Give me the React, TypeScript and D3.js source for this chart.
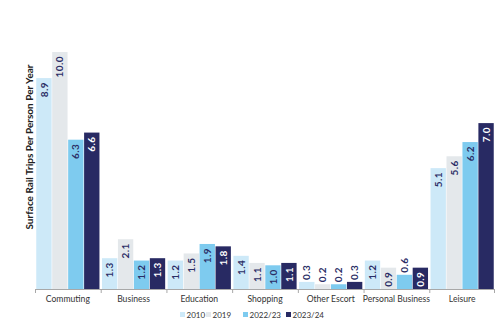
import React from "react";
import * as d3 from "d3";

const categories = ["Commuting", "Business", "Education", "Shopping", "Other Escort", "Personal Business", "Leisure"];
const seriesNames = ["2010", "2019", "2022/23", "2023/24"];
const values2010 = [8.9, 1.3, 1.2, 1.4, 0.3, 1.2, 5.1];
const values2019 = [10.0, 2.1, 1.5, 1.1, 0.2, 0.9, 5.6];
const values2022 = [6.3, 1.2, 1.9, 1.0, 0.2, 0.6, 6.2];
const values2023 = [6.6, 1.3, 1.8, 1.1, 0.3, 0.9, 7.0];
const seriesValues = [values2010, values2019, values2022, values2023];
const colors = ["#cde9f8", "#e4e8eb", "#7ecbef", "#282a63"];
const yLabel = "Surface Rail Trips Per Person Per Year";

const W = 500;
const H = 326;
const left = 35;
const right = 495;
const base = 289;
const FONT = "Lato, 'Open Sans', sans-serif";

export default function App() {
  const x0 = d3.scaleBand<string>().domain(categories).range([left, right]).paddingInner(0).paddingOuter(0);
  const x1 = d3.scaleBand<string>().domain(seriesNames).range([0, x0.bandwidth()]).paddingInner(0).paddingOuter(0.06);
  const y = d3.scaleLinear().domain([0, 10]).range([base, 52]);

  const legendX = [180, 206, 243, 286];

  return (
    <svg width={W} height={H} style={{ position: "absolute", left: 0, top: 0, background: "#fff" }} fontFamily={FONT}>
      {categories.map((c, ci) => (
        <g key={c}>
          {seriesNames.map((s, si) => {
            const v = seriesValues[si][ci];
            const bx = (x0(c) as number) + (x1(s) as number);
            const bw = x1.bandwidth();
            const top = y(v);
            const h = base - top;
            const label = v.toFixed(1);
            const inside = h >= 19;
            const cx = bx + bw / 2;
            const fill = inside ? (si === 3 ? "#ffffff" : "#2b2e66") : "#2b2e66";
            return (
              <g key={s}>
                <rect x={bx + 0.3} y={top} width={bw - 0.6} height={h} fill={colors[si]} />
                <text
                  transform={`translate(${cx + 3.6},${inside ? top + 4 : top - 2}) rotate(-90)`}
                  textAnchor={inside ? "end" : "start"}
                  fontSize={10}
                  fontWeight="bold"
                  fill={fill}
                  letterSpacing={0.4}
                >
                  {label}
                </text>
              </g>
            );
          })}
          <text x={(x0(c) as number) + x0.bandwidth() / 2} y={302} textAnchor="middle" fontSize={8.6} fill="#333">
            {c}
          </text>
        </g>
      ))}
      <line x1={left} x2={right} y1={base + 0.5} y2={base + 0.5} stroke="#a8a8a8" strokeWidth={1} />
      {categories.map((c) => (
        <line key={c} x1={(x0(c) as number) + 0.5} x2={(x0(c) as number) + 0.5} y1={base} y2={base + 4} stroke="#a8a8a8" />
      ))}
      <line x1={right - 0.5} x2={right - 0.5} y1={base} y2={base + 4} stroke="#a8a8a8" />
      <text transform={`translate(33,147) rotate(-90)`} textAnchor="middle" fontSize={10} fontWeight="bold" fill="#222">
        {yLabel}
      </text>
      {seriesNames.map((s, i) => (
        <g key={s}>
          <rect x={legendX[i]} y={312} width={5} height={5} fill={colors[i]} />
          <text x={legendX[i] + 6.5} y={318} fontSize={8} fill="#333">
            {s}
          </text>
        </g>
      ))}
    </svg>
  );
}
